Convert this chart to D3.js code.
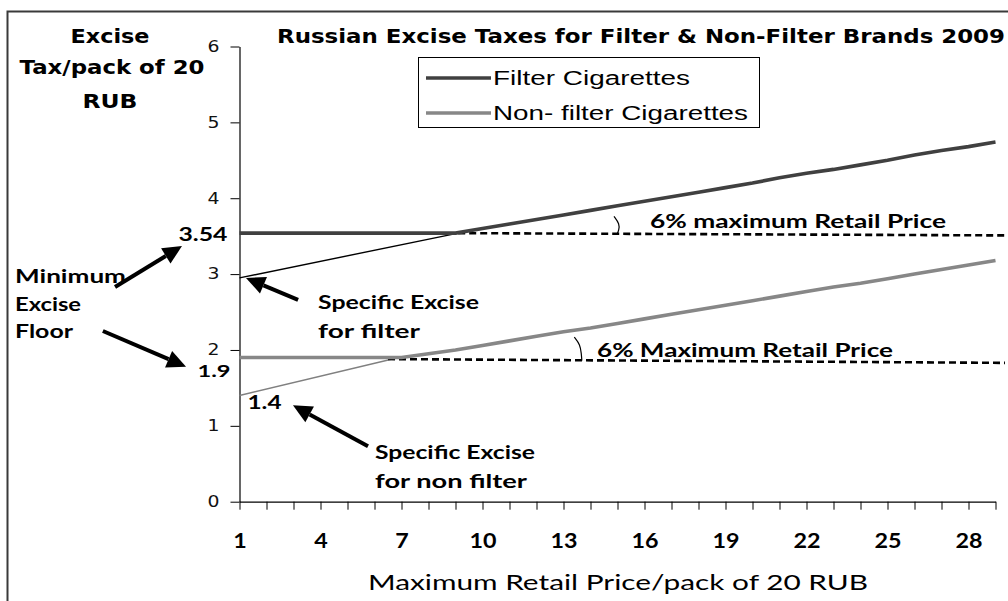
<!DOCTYPE html>
<html>
<head>
<meta charset="utf-8">
<script src="https://cdn.jsdelivr.net/npm/d3@7"></script>
<style>
  html, body { margin: 0; padding: 0; background: #fff; }
  svg { display: block; }
</style>
</head>
<body>
<svg id="chart" width="1008" height="601"></svg>
<script>
// Maximum retail price per pack (RUB), one category per rouble
const prices = d3.range(1, 30);
// Excise per pack of 20 (RUB)
const filterExcise = [3.54, 3.54, 3.54, 3.54, 3.54, 3.54, 3.54, 3.54, 3.54,
  3.60, 3.66, 3.72, 3.78, 3.84, 3.90, 3.96, 4.02, 4.08, 4.14, 4.20,
  4.27, 4.33, 4.38, 4.44, 4.50, 4.57, 4.63, 4.68, 4.74];
const nonFilterExcise = [1.9, 1.9, 1.9, 1.9, 1.9, 1.9, 1.9,
  1.95, 2.00, 2.06, 2.12, 2.18, 2.24, 2.29, 2.35, 2.41, 2.47, 2.53, 2.59,
  2.65, 2.71, 2.77, 2.83, 2.88, 2.94, 3.00, 3.06, 3.12, 3.18];
// Specific (per-pack) component, shown up to where the floor takes over
const specificFilter = [[1, 2.95], [9.1, 3.54]];
const specificNonFilter = [[1, 1.4], [6.9, 1.9]];
// Minimum floors continued as dashed lines past the crossover
const floorFilter = [[9.1, 3.54], [29.35, 3.51]];
const floorNonFilter = [[6.5, 1.88], [29.35, 1.83]];
const yTicks = [0, 1, 2, 3, 4, 5, 6];
const xLabelled = [1, 4, 7, 10, 13, 16, 19, 22, 25, 28];
const seriesNames = ["Filter Cigarettes", "Non- filter Cigarettes"];

const svg = d3.select("#chart");
const W = 1008, H = 601;

const x = d3.scaleLinear().domain([1, 29]).range([239.5, 995.5]);
const y = d3.scaleLinear().domain([0, 6]).range([501.7, 46.5]);

const boldFont = "Lato, 'Open Sans', sans-serif";
const wideBold = "'DejaVu Sans', Verdana, sans-serif";

// stretched text helper
function txt(g, s, px, py, opts) {
  const t = g.append("text")
    .attr("x", px).attr("y", py)
    .attr("font-family", opts.family || boldFont)
    .attr("font-size", opts.size || 18)
    .attr("font-weight", opts.weight || "bold")
    .attr("fill", opts.fill || "#000")
    .attr("text-anchor", opts.anchor || "start")
    .text(s);
  if (opts.w) t.attr("textLength", opts.w).attr("lengthAdjust", "spacingAndGlyphs");
  return t;
}

// outer frame
svg.append("rect")
  .attr("x", 7.5).attr("y", 11.5)
  .attr("width", W + 10).attr("height", H + 10)
  .attr("fill", "none").attr("stroke", "#3a3a3a").attr("stroke-width", 2);

// axes
const yAxis = svg.append("g")
  .attr("transform", `translate(${x(1)},0)`)
  .call(d3.axisLeft(y).tickValues(yTicks).tickFormat(d3.format("d"))
    .tickSize(9).tickSizeOuter(0).tickPadding(11));
yAxis.select(".domain").attr("stroke", "#000").attr("stroke-width", 1.2);
yAxis.selectAll(".tick line").attr("stroke", "#000").attr("stroke-width", 1);
yAxis.selectAll(".tick text")
  .attr("font-family", "'DejaVu Sans', sans-serif")
  .attr("font-size", 15).attr("fill", "#111")
  .attr("textLength", 12).attr("lengthAdjust", "spacingAndGlyphs");

const xAxis = svg.append("g")
  .attr("transform", `translate(0,${y(0)})`)
  .call(d3.axisBottom(x).tickValues(prices).tickSize(8).tickSizeOuter(0)
    .tickFormat(d => xLabelled.includes(d) ? String(d) : ""));
xAxis.select(".domain").attr("stroke", "#000").attr("stroke-width", 1.2);
xAxis.selectAll(".tick line").attr("stroke", "#000").attr("stroke-width", 1);
xAxis.selectAll(".tick text")
  .attr("y", 46).attr("dy", 0)
  .attr("font-family", boldFont).attr("font-weight", "bold")
  .attr("font-size", 20).attr("fill", "#000")
  .each(function (d) {
    if (xLabelled.includes(d)) {
      d3.select(this).attr("textLength", String(d).length * 13.5)
        .attr("lengthAdjust", "spacingAndGlyphs");
    }
  });

// series
const line = d3.line().x(d => x(d[0])).y(d => y(d[1]));
const filterPts = prices.map((p, i) => [p, filterExcise[i]]);
const nonFilterPts = prices.map((p, i) => [p, nonFilterExcise[i]]);

svg.append("path").datum(specificFilter).attr("d", line)
  .attr("fill", "none").attr("stroke", "#000").attr("stroke-width", 1.4);
svg.append("path").datum(specificNonFilter).attr("d", line)
  .attr("fill", "none").attr("stroke", "#808080").attr("stroke-width", 1.4);

svg.append("path").datum(floorFilter).attr("d", line)
  .attr("fill", "none").attr("stroke", "#000").attr("stroke-width", 2.6)
  .attr("stroke-dasharray", "7,4");
svg.append("path").datum(floorNonFilter).attr("d", line)
  .attr("fill", "none").attr("stroke", "#000").attr("stroke-width", 2.6)
  .attr("stroke-dasharray", "7,4");

svg.append("path").datum(filterPts).attr("d", line)
  .attr("fill", "none").attr("stroke", "#404040").attr("stroke-width", 3.6);
svg.append("path").datum(nonFilterPts).attr("d", line)
  .attr("fill", "none").attr("stroke", "#878787").attr("stroke-width", 3.6);

// angle marks between the rising tax and the floor
const arc = d3.line().x(d => x(d[0])).y(d => y(d[1])).curve(d3.curveBasis);
svg.append("path")
  .datum([[14.87, 3.76], [15.08, 3.66], [15.05, 3.58], [14.98, 3.52]])
  .attr("d", arc).attr("fill", "none").attr("stroke", "#000").attr("stroke-width", 1.2);
svg.append("path")
  .datum([[13.4, 2.17], [13.62, 2.07], [13.66, 1.95], [13.68, 1.86]])
  .attr("d", arc).attr("fill", "none").attr("stroke", "#000").attr("stroke-width", 1.2);

// title
txt(svg, "Russian Excise Taxes for Filter & Non-Filter Brands 2009", 277, 43,
  { family: wideBold, size: 19, w: 728 });

// y-axis title
txt(svg, "Excise", 110, 43, { family: wideBold, size: 19, anchor: "middle", w: 79 });
txt(svg, "Tax/pack of 20", 112, 74, { family: wideBold, size: 19, anchor: "middle", w: 185 });
txt(svg, "RUB", 110, 108, { family: wideBold, size: 19, anchor: "middle", w: 55 });

// x-axis title
txt(svg, "Maximum Retail Price/pack of 20 RUB", 618, 590,
  { size: 21, weight: "normal", anchor: "middle", w: 500 });

// legend
const leg = svg.append("g");
leg.append("rect").attr("x", 418.5).attr("y", 57.5).attr("width", 341).attr("height", 70)
  .attr("fill", "#fff").attr("stroke", "#000").attr("stroke-width", 1);
const legColors = ["#404040", "#878787"];
seriesNames.forEach((n, i) => {
  const ly = 78 + i * 35;
  leg.append("line").attr("x1", 426).attr("x2", 491).attr("y1", ly).attr("y2", ly)
    .attr("stroke", legColors[i]).attr("stroke-width", 3.6);
  txt(leg, n, 493, ly + 7, { family: "'Liberation Sans', Arial, sans-serif",
    size: 20, weight: "normal", w: i === 0 ? 197 : 255 });
});

// value labels tied to the series
txt(svg, "3.54", x(1) - 12, y(3.54) + 8, { size: 19, anchor: "end", w: 49 });
txt(svg, "1.9", x(1) - 9, y(1.9) + 19, { size: 17, anchor: "end", w: 33 });
txt(svg, "1.4", x(1) + 8, y(1.4) + 14, { size: 19, w: 34 });

// notes
txt(svg, "Minimum", 15, 283, { size: 18, w: 111 });
txt(svg, "Excise", 15, 311, { size: 18, w: 66 });
txt(svg, "Floor", 15, 338, { size: 18, w: 58 });
txt(svg, "Specific Excise", 318, 309, { size: 18, w: 161 });
txt(svg, "for filter", 318, 338, { size: 18, w: 102 });
txt(svg, "Specific Excise", 375, 459, { size: 18, w: 160 });
txt(svg, "for non filter", 375, 488, { size: 18, w: 152 });
txt(svg, "6% maximum Retail Price", 650, 228, { size: 18, w: 296 });
txt(svg, "6% Maximum Retail Price", 597, 357, { size: 18, w: 296 });

// arrows: [tailX, tailY, tipX, tipY] in chart units
const arrows = [
  [-3.61, 2.83, -1.13, 3.37],
  [-4.06, 2.25, -0.98, 1.78],
  [3.17, 2.66, 1.24, 2.95],
  [5.76, 0.73, 2.98, 1.27]
];
arrows.forEach(([a, b, c, d]) => {
  const x1 = x(a), y1 = y(b), x2 = x(c), y2 = y(d);
  const ang = Math.atan2(y2 - y1, x2 - x1);
  const hl = 19, hw = 9;
  const bx = x2 - hl * Math.cos(ang), by = y2 - hl * Math.sin(ang);
  svg.append("line").attr("x1", x1).attr("y1", y1).attr("x2", bx).attr("y2", by)
    .attr("stroke", "#000").attr("stroke-width", 4);
  const px = -Math.sin(ang) * hw, py = Math.cos(ang) * hw;
  svg.append("path")
    .attr("d", `M${x2},${y2}L${bx + px},${by + py}L${bx - px},${by - py}Z`)
    .attr("fill", "#000");
});
</script>
</body>
</html>
